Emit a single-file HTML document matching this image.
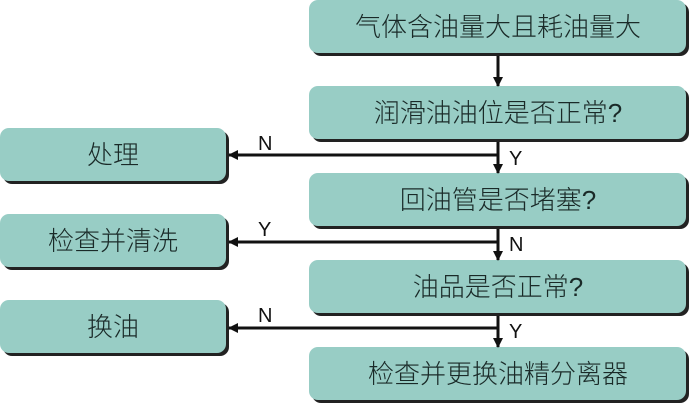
<!DOCTYPE html>
<html><head><meta charset="utf-8"><style>
html,body{margin:0;padding:0;background:#fff;width:690px;height:404px;overflow:hidden}
text{font-family:"Liberation Sans","Noto Sans CJK SC",sans-serif;fill:#1a2a28}
.c{font-size:26px;font-weight:300}
.l{font-size:20px;fill:#111}
</style></head><body>
<svg width="690" height="404" viewBox="0 0 690 404" xmlns="http://www.w3.org/2000/svg">
<defs><marker id="a" markerWidth="10" markerHeight="10" refX="9" refY="5" orient="auto" markerUnits="userSpaceOnUse"><path d="M0,0 L10,5 L0,10 Z" fill="#111"/></marker></defs>
<g fill="#222">
<rect x="312" y="3" width="377" height="53" rx="9"/>
<rect x="312" y="89" width="377" height="53" rx="9"/>
<rect x="312" y="176" width="377" height="53" rx="9"/>
<rect x="312" y="263" width="377" height="53" rx="9"/>
<rect x="312" y="350" width="377" height="53" rx="9"/>
<rect x="3" y="131" width="226" height="53" rx="9"/>
<rect x="3" y="217" width="226" height="53" rx="9"/>
<rect x="3" y="303" width="226" height="53" rx="9"/>
</g>
<g fill="#98cdc5">
<rect x="309" y="0" width="377" height="53" rx="9"/>
<rect x="309" y="86" width="377" height="53" rx="9"/>
<rect x="309" y="173" width="377" height="53" rx="9"/>
<rect x="309" y="260" width="377" height="53" rx="9"/>
<rect x="309" y="347" width="377" height="53" rx="9"/>
<rect x="0" y="128" width="226" height="53" rx="9"/>
<rect x="0" y="214" width="226" height="53" rx="9"/>
<rect x="0" y="300" width="226" height="53" rx="9"/>
</g>
<g stroke="#111" stroke-width="3" fill="none">
<line x1="498" y1="56" x2="498" y2="86" marker-end="url(#a)"/>
<line x1="498" y1="142" x2="498" y2="173" marker-end="url(#a)"/>
<line x1="498" y1="229" x2="498" y2="260" marker-end="url(#a)"/>
<line x1="498" y1="316" x2="498" y2="347" marker-end="url(#a)"/>
<line x1="498" y1="155" x2="229" y2="155" marker-end="url(#a)"/>
<line x1="498" y1="242" x2="229" y2="242" marker-end="url(#a)"/>
<line x1="498" y1="328" x2="229" y2="328" marker-end="url(#a)"/>
</g>
<g text-anchor="middle">
<text x="498" y="36" class="c">气体含油量大且耗油量大</text>
<text x="498" y="122" class="c">润滑油油位是否正常?</text>
<text x="498" y="209" class="c">回油管是否堵塞?</text>
<text x="498" y="296" class="c">油品是否正常?</text>
<text x="498" y="383" class="c">检查并更换油精分离器</text>
<text x="113" y="164" class="c">处理</text>
<text x="113" y="250" class="c">检查并清洗</text>
<text x="113" y="336" class="c">换油</text>
</g>
<text x="258" y="150" class="l">N</text>
<text x="509" y="165" class="l">Y</text>
<text x="258" y="236" class="l">Y</text>
<text x="509" y="251" class="l">N</text>
<text x="258" y="322" class="l">N</text>
<text x="509" y="338" class="l">Y</text>
</svg>
</body></html>
